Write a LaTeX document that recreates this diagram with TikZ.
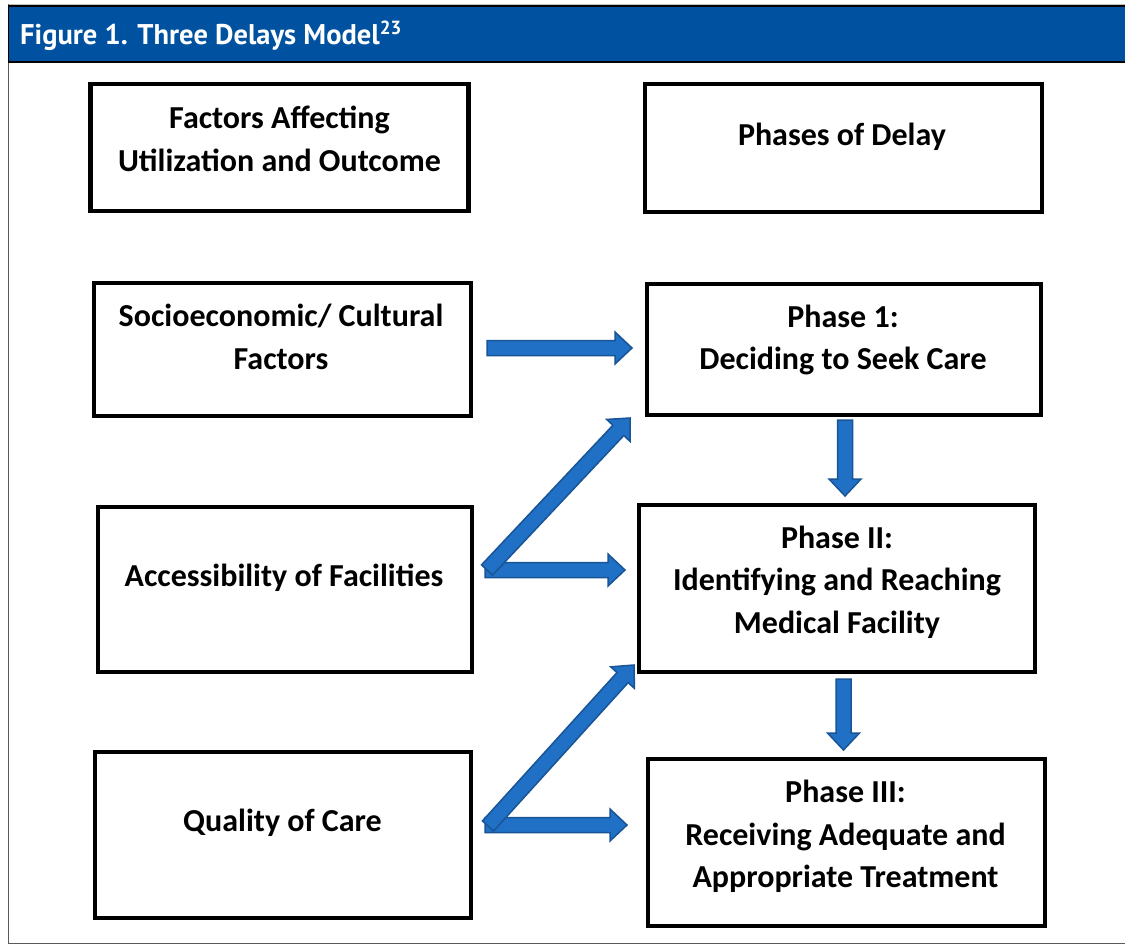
\documentclass[tikz,border=0pt]{standalone}
\usepackage{fontspec}
\setmainfont{Carlito}
\newfontfamily\hdrfont{PT Sans}
\usetikzlibrary{calc}
\definecolor{hdrblue}{RGB}{0,82,160}
\definecolor{arrfill}{RGB}{32,113,197}
\definecolor{arrdraw}{RGB}{24,84,150}
\definecolor{framegray}{RGB}{90,90,90}
\tikzset{
  boxnode/.style={draw=black, line width=4.5pt, outer sep=0pt, inner sep=0pt, rectangle},
  boxtext/.style={font=\bfseries\fontsize{32}{42.5}\selectfont, align=center, inner sep=0pt},
  arrowstyle/.style={fill=arrfill, draw=arrdraw, line width=1.5pt, line join=miter},
}
\newcommand{\blockarrow}[2]{%
  \coordinate (hb) at ($#2!17pt!#1$);
  \filldraw[arrowstyle] ($#1!7.5pt!90:#2$) -- ($(hb)!7.5pt!90:#2$) -- ($(hb)!16pt!90:#2$) -- #2 -- ($(hb)!16pt!-90:#2$) -- ($(hb)!7.5pt!-90:#2$) -- ($#1!7.5pt!-90:#2$) -- cycle;}
\begin{document}
\begin{tikzpicture}[x=1pt, y=-1pt]
\useasboundingbox (0,0) rectangle (1125,948);
\fill[white] (0,0) rectangle (1125,948);
% frame and header band
\draw[framegray, line width=1.5pt] (8.5,5) rectangle (1140,943.5);
\draw[black!25, line width=1pt] (8.5,4) -- (1140,4);
\filldraw[fill=hdrblue, draw=black, line width=1.5pt] (8.5,6) rectangle (1140,62);
\node[anchor=base west, text=white, inner sep=0pt, font={\hdrfont\bfseries\fontsize{28.5}{32}\selectfont}] (title) at (20,44) {Figure 1. Three Delays Model\raisebox{10pt}{\fontsize{19}{19}\selectfont 23}};
% boxes
\node[boxnode, minimum width=378pt, minimum height=127pt] (b1) at (279.5,147.5) {};
\node[boxnode, minimum width=397pt, minimum height=128pt] (b2) at (843.5,148) {};
\node[boxnode, minimum width=377pt, minimum height=133pt] (b3) at (282.5,349.5) {};
\node[boxnode, minimum width=394pt, minimum height=131pt] (b4) at (844,349.5) {};
\node[boxnode, minimum width=374pt, minimum height=165pt] (b5) at (285,589.5) {};
\node[boxnode, minimum width=396pt, minimum height=167pt] (b6) at (837,588.5) {};
\node[boxnode, minimum width=376pt, minimum height=166pt] (b7) at (283,835) {};
\node[boxnode, minimum width=397pt, minimum height=167pt] (b8) at (846.5,842.5) {};
% texts
\node[boxtext] (t1) at (279.5,139) {Factors Affecting\\Utilization and Outcome};
\node[boxtext] (t2) at (842,137) {Phases of Delay};
\node[boxtext] (t3) at (281,337) {Socioeconomic/ Cultural\\Factors};
\node[boxtext] (t4) at (843,340) {Phase 1:\\Deciding to Seek Care};
\node[boxtext] (t5) at (284,578) {Accessibility of Facilities};
\node[boxtext] (t6) at (837,582) {Phase II:\\Identifying and Reaching\\Medical Facility};
\node[boxtext] (t7) at (282.5,823) {Quality of Care};
\node[boxtext] (t8) at (845.5,836.5) {Phase III:\\Receiving Adequate and\\Appropriate Treatment};
% connector end points
\coordinate (aS) at ($(b3.east)+(16,-1.5)$);
\coordinate (aE) at ($(b4.west)+(-15,-1.5)$);
\coordinate (bS) at ($(b5.east)+(15,-19.5)$);
\coordinate (bE) at ($(b4.south west)+(-17,3)$);
\coordinate (cS) at ($(b5.east)+(13,-19.5)$);
\coordinate (cE) at ($(b6.west)+(-14,-18.5)$);
\coordinate (dS) at ($(b7.east)+(17,-9)$);
\coordinate (dE) at ($(b6.south west)+(-5,-7)$);
\coordinate (eS) at ($(b7.east)+(14,-10)$);
\coordinate (eE) at ($(b8.west)+(-21,-17.5)$);
\coordinate (fS) at ($(b4.south)+(1,5)$);
\coordinate (fE) at ($(b6.north)+(8,-9)$);
\coordinate (gS) at ($(b6.south)+(6.5,7)$);
\coordinate (gE) at ($(b8.north)+(-3,-9)$);
% block arrows
\blockarrow{(aS)}{(aE)}
\blockarrow{(cS)}{(cE)}
\blockarrow{(bS)}{(bE)}
\blockarrow{(eS)}{(eE)}
\blockarrow{(dS)}{(dE)}
\blockarrow{(fS)}{(fE)}
\blockarrow{(gS)}{(gE)}
\end{tikzpicture}
\end{document}
